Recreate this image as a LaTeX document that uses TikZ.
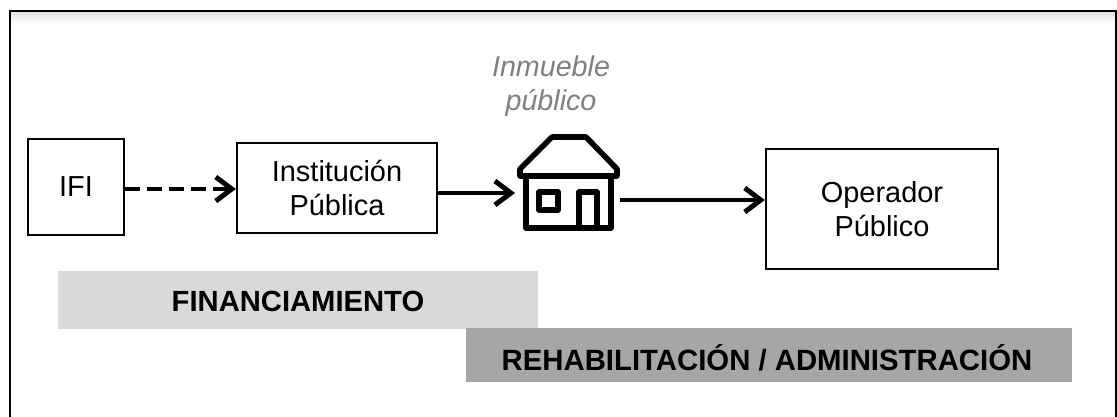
\documentclass[tikz,border=0pt]{standalone}
\usepackage{fontspec}
\setmainfont{Liberation Sans}
\usetikzlibrary{arrows.meta}
\definecolor{bandlight}{gray}{0.85}
\definecolor{banddark}{gray}{0.65}
\tikzset{
  px/.style={x=0.75pt,y=-0.75pt},
  box/.style={draw=black,line width=1.7pt,align=center,font=\fontsize{21.7}{26}\selectfont,inner sep=0pt,fill=white},
  band/.style={font=\bfseries\fontsize{21.9}{25}\selectfont,inner sep=0pt},
  flow/.style={line width=3.7pt,-{Straight Barb[length=12pt,width=18pt,line width=3.7pt]}},
  icon/.style={line width=4.2pt,line join=round,line cap=round}
}
\begin{document}
\begin{tikzpicture}[px]
\useasboundingbox (0,0) rectangle (1117,417);
\fill[white] (0,0) rectangle (1117,417);
\shade[top color=black!12,bottom color=white] (11,12) rectangle (1116,24);
\draw[line width=1.8pt,black] (10,418) -- (10,11) -- (1116,11) -- (1116,418);
\fill[bandlight] (58,271) rectangle (538,329);
\fill[banddark] (466,328) rectangle (1072,382);
\node[band] (fin) at (298,301) {FINANCIAMIENTO};
\node[band,font=\bfseries\fontsize{22}{25}\selectfont] (reh) at (767,358) {REHABILITACIÓN / ADMINISTRACIÓN};
\node[box,minimum width=72pt,minimum height=72pt] (ifi) at (76,187) {IFI};
\node[box,minimum width=150pt,minimum height=67pt] (inst) at (337,188) {Institución\\Pública};
\node[box,minimum width=174pt,minimum height=90pt] (oper) at (882,209) {Operador\\Público};
\node[font=\itshape\fontsize{21.5}{26}\selectfont,text=black!50,align=center,inner sep=0pt] (inm) at (551,86) {Inmueble\\público};
\coordinate (hin) at (515,193);
\coordinate (hout) at (620,200);
\coordinate (ifiy) at (0,189);
\draw[icon] (520,176) -- (520,169) -- (552,137) -- (586,137) -- (617,169) -- (617,176) -- cycle;
\draw[icon] (526,176) -- (526,228) -- (611,228) -- (611,176);
\draw[icon] (539,192) rectangle (558,210);
\draw[icon] (579,228) -- (579,192) -- (597,192) -- (597,228);
\draw[flow,dash pattern=on 11.5pt off 5pt] (ifi.east |- ifiy) -- (inst.west |- ifiy);
\draw[flow] (inst.east |- hin) -- (hin);
\draw[flow] (hout) -- (oper.west |- hout);
\end{tikzpicture}
\end{document}
